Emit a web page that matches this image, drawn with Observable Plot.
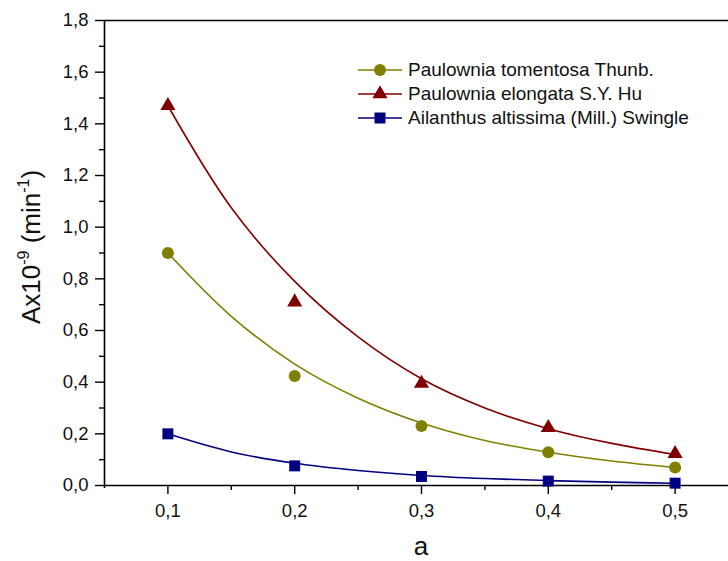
<!DOCTYPE html>
<html>
<head>
<meta charset="utf-8">
<script src="https://cdn.jsdelivr.net/npm/d3@7"></script>
<script src="https://cdn.jsdelivr.net/npm/@observablehq/plot@0.6"></script>
<style>
  html, body { margin: 0; padding: 0; background: #fff; overflow: hidden; }
  #wrap { position: relative; width: 728px; height: 561px; font-family: "Liberation Sans", Arial, sans-serif; }
  #legend { position: absolute; left: 358px; top: 58px; font-size: 19px; color: #111; }
  .row { display: flex; align-items: center; height: 24px; white-space: nowrap; }
  .row svg { margin-right: 6px; }
</style>
</head>
<body>
<div id="wrap"><div id="legend"></div></div>
<script>
// ---- data ----
const aValues = [0.1, 0.2, 0.3, 0.4, 0.5];
const tomentosa = [0.900, 0.424, 0.230, 0.129, 0.070];
const elongata  = [1.470, 0.710, 0.395, 0.224, 0.123];
const ailanthus = [0.200, 0.076, 0.035, 0.017, 0.009];

// fitted curves at these a values
const fitA = [0.10, 0.15, 0.20, 0.25, 0.30, 0.35, 0.40, 0.45, 0.50];
const fitTomentosa = [0.900, 0.655, 0.470, 0.338, 0.242, 0.174, 0.129, 0.095, 0.070];
const fitElongata  = [1.470, 1.075, 0.790, 0.575, 0.413, 0.300, 0.220, 0.163, 0.120];
const fitAilanthus = [0.200, 0.130, 0.086, 0.058, 0.039, 0.027, 0.019, 0.013, 0.009];

const seriesNames = ["Paulownia tomentosa Thunb.", "Paulownia elongata S.Y. Hu", "Ailanthus altissima (Mill.) Swingle"];
const seriesColors = ["#808000", "#800000", "#000080"];
const seriesSymbols = ["circle", "triangle", "square"];

const xMajor = [0.1, 0.2, 0.3, 0.4, 0.5];
const xMinor = [0.15, 0.25, 0.35, 0.45];
const yMajor = [0, 0.2, 0.4, 0.6, 0.8, 1.0, 1.2, 1.4, 1.6, 1.8];
const yMinor = [0.1, 0.3, 0.5, 0.7, 0.9, 1.1, 1.3, 1.5, 1.7];

// ---- build tables ----
const pointVals = [tomentosa, elongata, ailanthus];
const fitVals = [fitTomentosa, fitElongata, fitAilanthus];
const points = [], fits = [];
seriesNames.forEach((s, i) => {
  aValues.forEach((a, j) => points.push({s, a, v: pointVals[i][j]}));
  fitA.forEach((a, j) => fits.push({s, a, v: fitVals[i][j]}));
});

const comma = d => d3.format(".1f")(d).replace(".", ",");
const W = 728, H = 561, mL = 104, mT = 20, mB = 76;
// the reference is cropped on the right: full frame would reach a = 0.55 at x = 738
const xRight = 0.05 + 0.5 * (W - mL) / (738 - mL);

const marks = [
  Plot.ruleY([1.8], {stroke: "#000", strokeWidth: 1.6}),
  Plot.ruleY([0], {stroke: "#000", strokeWidth: 1.6}),
  Plot.ruleX([0.05], {y1: -0.012, y2: 1.8, stroke: "#000", strokeWidth: 1.6}),
  Plot.axisX({ticks: xMajor, tickSize: 9, tickPadding: 9, tickFormat: comma, fontSize: 18.5, label: null, stroke: "#000", strokeWidth: 1.4}),
  Plot.axisX({ticks: xMinor, tickSize: 5, tickFormat: () => "", label: null, stroke: "#000", strokeWidth: 1.4}),
  Plot.axisY({ticks: yMajor, tickSize: 9, tickPadding: 7, tickFormat: comma, fontSize: 18.5, label: null, stroke: "#000", strokeWidth: 1.4}),
  Plot.axisY({ticks: yMinor, tickSize: 5, tickFormat: () => "", label: null, stroke: "#000", strokeWidth: 1.4})
];
seriesNames.forEach((s, i) => {
  marks.push(Plot.line(fits.filter(d => d.s === s), {x: "a", y: "v", stroke: seriesColors[i], strokeWidth: 1.6, curve: "catmull-rom"}));
});
seriesNames.forEach((s, i) => {
  marks.push(Plot.dot(points.filter(d => d.s === s), {x: "a", y: "v", fill: seriesColors[i], stroke: "none",
    symbol: seriesSymbols[i], r: i === 1 ? 5.6 : (i === 2 ? 6.2 : 6)}));
});

const chart = Plot.plot({
  width: W, height: H,
  marginLeft: mL, marginRight: 0, marginTop: mT, marginBottom: mB,
  style: {fontFamily: "Liberation Sans, Arial, sans-serif", color: "#111", background: "#fff", overflow: "visible"},
  x: {domain: [0.05, xRight]},
  y: {domain: [0, 1.8]},
  marks
});

const svg = d3.select(chart);
// make sure tick labels use the reference size
svg.selectAll('g[aria-label$="tick label"]').attr("font-size", 18.5).style("font-size", "18.5px");

// axis titles
const yt = svg.append("text")
  .attr("transform", "translate(40,247) rotate(-90)")
  .attr("text-anchor", "middle")
  .attr("font-size", 26)
  .attr("fill", "#111")
  .attr("font-family", "Liberation Sans, Arial, sans-serif");
yt.append("tspan").text("Ax10");
yt.append("tspan").attr("font-size", 16).attr("dy", -11).text("-9");
yt.append("tspan").attr("dy", 11).text(" (min");
yt.append("tspan").attr("font-size", 16).attr("dy", -11).text("-1");
yt.append("tspan").attr("dy", 11).text(")");

svg.append("text")
  .attr("x", 421).attr("y", 555)
  .attr("text-anchor", "middle")
  .attr("font-size", 26)
  .attr("fill", "#111")
  .attr("font-family", "Liberation Sans, Arial, sans-serif")
  .text("a");

document.getElementById("wrap").prepend(chart);

// legend
const leg = d3.select("#legend");
seriesNames.forEach((s, i) => {
  const row = leg.append("div").attr("class", "row");
  const sw = row.append("svg").attr("width", 44).attr("height", 24);
  sw.append("line").attr("x1", 0).attr("x2", 44).attr("y1", 12).attr("y2", 12)
    .attr("stroke", seriesColors[i]).attr("stroke-width", 1.6);
  const sym = {circle: d3.symbolCircle, triangle: d3.symbolTriangle, square: d3.symbolSquare}[seriesSymbols[i]];
  const r = i === 1 ? 5.6 : (i === 2 ? 6.2 : 6);
  sw.append("path").attr("transform", "translate(22,12)")
    .attr("d", d3.symbol(sym, Math.PI * r * r)())
    .attr("fill", seriesColors[i]);
  row.append("span").text(s);
});
</script>
</body>
</html>
